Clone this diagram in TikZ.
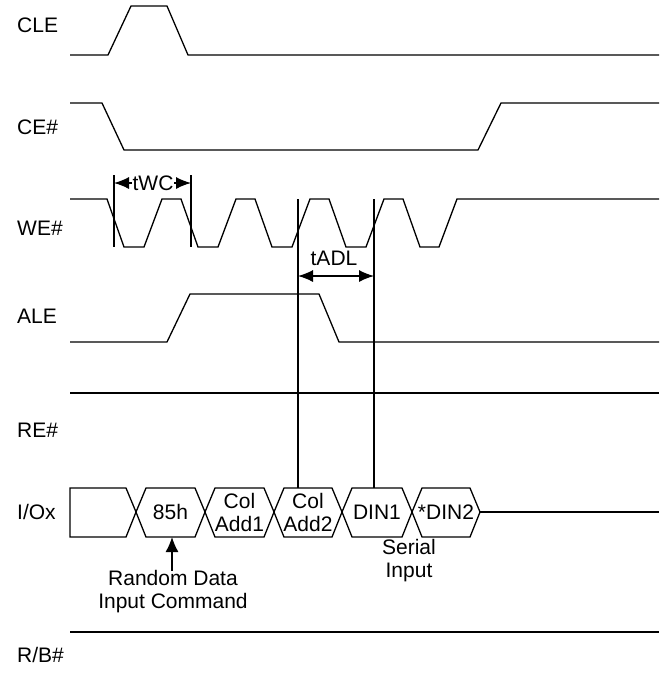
\documentclass[tikz,border=0pt]{standalone}
\usepackage{fontspec}
\setmainfont{Liberation Sans}
\usetikzlibrary{arrows.meta}
\begin{document}
\begin{tikzpicture}[x=1pt,y=-1pt,
  sig/.style={line width=1.3pt, line join=miter},
  lbl/.style={anchor=base west, inner sep=0pt, font=\fontsize{21}{23}\selectfont},
  txt/.style={inner sep=0pt, align=center, font=\fontsize{21}{23}\selectfont},
  dimarrow/.style={line width=1.3pt, {Latex[length=15pt,width=12pt]}-{Latex[length=15pt,width=12pt]}},
  upArrow/.style={line width=1.3pt, -{Latex[length=15pt,width=13pt]}},
  guide/.style={line width=1.3pt}]
\useasboundingbox (0,0) rectangle (659,675);

% labels
\node[lbl] (lcle) at (17,32.5) {CLE};
\node[lbl] (lce) at (17,134.5) {CE\#};
\node[lbl] (lwe) at (17,235.5) {WE\#};
\node[lbl] (lale) at (17,323.5) {ALE};
\node[lbl] (lre) at (17,437.5) {RE\#};
\node[lbl] (lio) at (17,519.5) {I/Ox};
\node[lbl] (lrb) at (17,662.5) {R/B\#};

% CLE
\draw[sig] (70,55) -- (108,55) -- (131,6) -- (167,6) -- (188,55) -- (659,55);
% CE#
\draw[sig] (70,103) -- (102,103) -- (124,150) -- (478,150) -- (501,103) -- (659,103);
% WE#
\draw[sig] (70,199) -- (107,199)
  \foreach \k in {0,...,3} { -- ++(17,48) -- ++(20,0) -- ++(18,-48) -- ++(19,0) }
  -- ++(17,48) -- ++(19,0) -- ++(18,-48) -- (659,199);
% ALE
\draw[sig] (70,342) -- (167,342) -- (190,294) -- (319,294) -- (339,342) -- (659,342);
% RE#
\draw[sig] (70,393) -- (659,393);
% R/B#
\draw[sig] (70,632) -- (659,632);

% I/Ox bus
\draw[sig] (70,488) -- (126,488) -- (136,512) -- (126,537) -- (70,537) -- cycle;
\foreach \a/\b in {136/205,205/274,274/342,342/412,412/480} {
  \draw[sig] (\a,512) -- (\a+10,488) -- (\b-10,488) -- (\b,512) -- (\b-10,537) -- (\a+10,537) -- cycle;
}
\draw[sig] (480,512) -- (659,512);
\node[txt] (h85) at (170.5,512) {85h};
\node[txt] (ca1) at (239.5,512) {Col\\Add1};
\node[txt] (ca2) at (308,512) {Col\\Add2};
\node[txt] (din1) at (377,512) {DIN1};
\node[txt] (din2) at (446,512) {*DIN2};

% tWC
\coordinate (w1t) at (114,175); \coordinate (w1b) at (114,247);
\coordinate (w2t) at (191,175); \coordinate (w2b) at (191,247);
\draw[guide] (w1t) -- (w1b);
\draw[guide] (w2t) -- (w2b);
\draw[dimarrow] (114,183) -- (191,183);
\node[txt, fill=white, inner xsep=1pt] (twc) at (153,183) {tWC};

% tADL
\coordinate (a1t) at (298,199); \coordinate (a1b) at (298,488);
\coordinate (a2t) at (374,199); \coordinate (a2b) at (374,488);
\draw[guide] (a1t) -- (a1b);
\draw[guide] (a2t) -- (a2b);
\draw[dimarrow] (298,276) -- (374,276);
\node[txt] (tadl) at (334,258) {tADL};

% annotations
\node[txt] (rdic) at (173,592) {Random Data\\Input Command};
\coordinate (hexbot) at (172,537);
\draw[upArrow] (rdic.north -| hexbot) -- (hexbot);
\node[txt] (serin) at (409,561) {Serial\\Input};
\end{tikzpicture}
\end{document}
